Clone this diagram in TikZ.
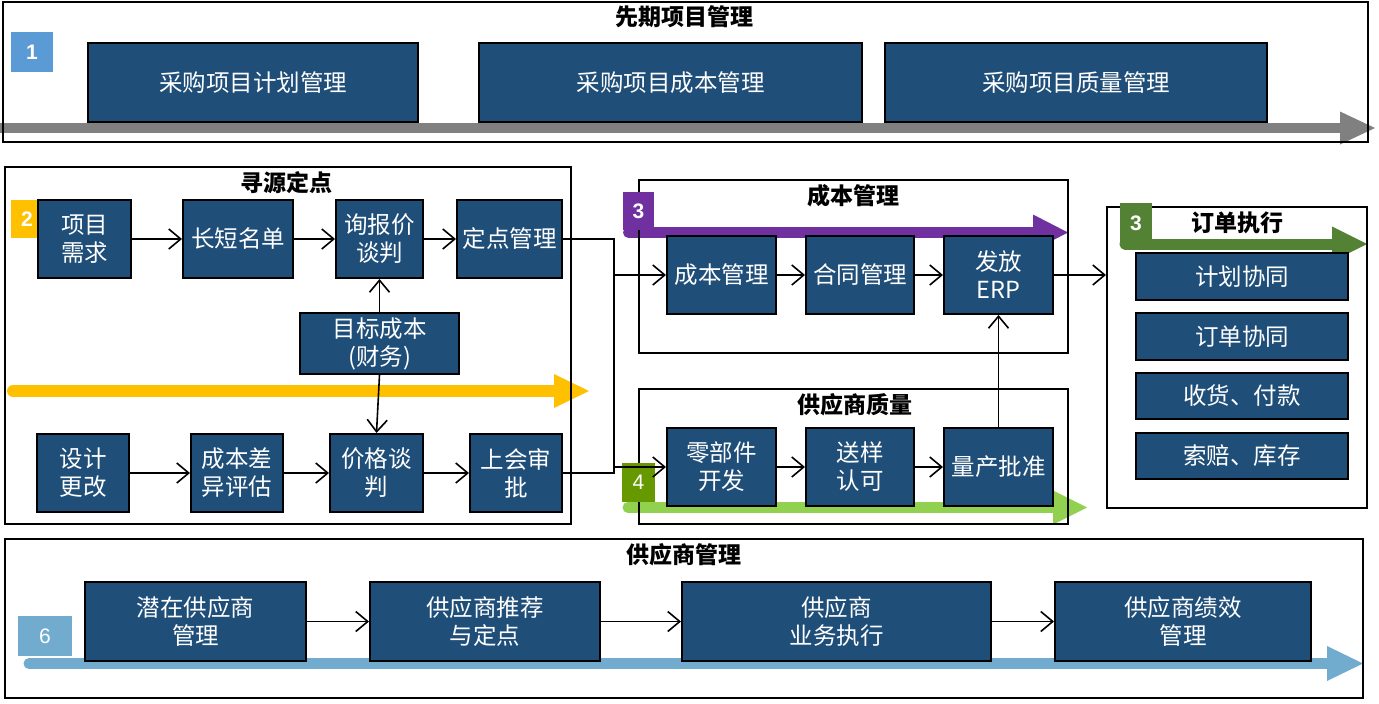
\documentclass[tikz,border=0pt]{standalone}
\usepackage{fontspec}
\setmainfont{Noto Sans CJK SC}
\newfontfamily\arial{Liberation Sans}
\usetikzlibrary{arrows.meta}
\definecolor{boxblue}{HTML}{1F4E79}
\definecolor{bargray}{HTML}{808080}
\definecolor{bOne}{HTML}{5B9BD5}
\definecolor{bYellow}{HTML}{FFC000}
\definecolor{bPurple}{HTML}{7030A0}
\definecolor{bGreenDark}{HTML}{669900}
\definecolor{bGreenLight}{HTML}{92D050}
\definecolor{bGreenOrder}{HTML}{548235}
\definecolor{bSix}{HTML}{71ACCE}
\tikzset{
  box/.style={draw=black, line width=2pt, fill=boxblue, text=white,
    font=\fontsize{23.5}{28}\selectfont, align=center, inner sep=0pt},
  panel/.style={draw=black, line width=2pt, inner sep=0pt},
  ttl/.style={font=\fontsize{23}{26}\selectfont\bfseries, inner sep=0pt},
  conn/.style={line width=1.6pt, -{Straight Barb[length=12pt,width=20pt]}},
  plain/.style={line width=1.6pt},
  badge/.style={inner sep=0pt, text=white, font=\arial\fontsize{21}{24}\selectfont},
}
\newcommand\bx[6]{\node[box, minimum width={#4-#2}, minimum height={#5-#3}] (#1) at ({(#2+#4)/2},{(#3+#5)/2}) {#6};}
\newcommand\pn[5]{\node[panel, minimum width={#4-#2}, minimum height={#5-#3}] (#1) at ({(#2+#4)/2},{(#3+#5)/2}) {};}
\newcommand\bg[7]{\node[badge, fill=#2, minimum width={#5-#3}, minimum height={#6-#4}] (#1) at ({(#3+#5)/2},{(#4+#6)/2}) {#7};}
% bar arrow: color, start x, y, head base x, tip x, thickness, half head, cap
\newcommand\bararrow[8]{%
  \draw[line width=#6, color=#1, line cap=#8] (#2,#3) -- (#4+1,#3);
  \fill[#1] (#4,#3-#7) -- (#5,#3) -- (#4,#3+#7) -- cycle;}
\begin{document}
\begin{tikzpicture}[x=1pt,y=-1pt]
\useasboundingbox (0,0) rectangle (1379,704);
% ---------- bars ----------
\bararrow{bargray}{0}{128}{1340}{1375}{10}{16.5}{butt}
\bararrow{bYellow}{13}{391}{554}{589}{12}{17}{round}
\bararrow{bPurple}{628.5}{232.5}{1033}{1068}{11}{18}{round}
\bararrow{bGreenLight}{628}{507.5}{1053}{1087}{11}{17}{round}
\bararrow{bGreenOrder}{1125}{244}{1332}{1367}{11}{17.5}{round}
\bararrow{bSix}{29}{663.5}{1327}{1363}{11}{17.5}{round}
% ---------- panels ----------
\pn{pA}{3}{2}{1368}{142}
\pn{pB}{5}{167}{571}{524}
\pn{pC}{639}{180}{1068}{353}
\pn{pD}{639}{389}{1068}{524}
\pn{pE}{1107}{207}{1367}{508}
\pn{pF}{5}{539}{1363}{698}
% ---------- titles ----------
\node[ttl] (tA) at (684,17) {先期项目管理};
\node[ttl] (tB) at (286,183) {寻源定点};
\node[ttl] (tC) at (853,196) {成本管理};
\node[ttl] (tD) at (855,405) {供应商质量};
\node[ttl] (tE) at (1237,223) {订单执行};
\node[ttl] (tF) at (684,555) {供应商管理};
% ---------- badges ----------
\bg{g1}{bOne}{11}{32}{53}{72}{\bfseries 1}
\bg{g2}{bYellow}{11}{200}{43}{238}{\bfseries 2}
\bg{g3}{bPurple}{623}{192}{654}{230}{\bfseries 3}
\bg{g4}{bGreenDark}{622}{463}{655}{502}{4}
\bg{g5}{bGreenOrder}{1120}{203}{1152}{243}{\bfseries 3}
\bg{g6}{bSix}{18}{616}{72}{656}{6}
% ---------- top row ----------
\bx{a1}{88}{43}{418}{122}{采购项目计划管理}
\bx{a2}{479}{43}{862}{122}{采购项目成本管理}
\bx{a3}{885}{43}{1267}{122}{采购项目质量管理}
% ---------- sourcing ----------
\bx{xmxq}{38}{200}{131}{278}{项目\\需求}
\bx{cdmd}{183}{200}{293}{278}{长短名单}
\bx{xbj}{336}{200}{423}{278}{询报价\\谈判}
\bx{ddgl}{457}{200}{562}{278}{定点管理}
\bx{mbcb}{300}{313}{459}{374}{目标成本\\(财务)}
\bx{sjgg}{37}{434}{129}{512}{设计\\更改}
\bx{cbcy}{191}{434}{283}{512}{成本差\\异评估}
\bx{jgtp}{330}{434}{423}{512}{价格谈\\判}
\bx{shsp}{470}{434}{562}{512}{上会审\\批}
% ---------- cost management ----------
\bx{cbgl}{667}{236}{776}{314}{成本管理}
\bx{htgl}{806}{236}{914}{314}{合同管理}
\bx{fferp}{944}{236}{1053}{314}{发放\\ERP}
% ---------- supplier quality ----------
\bx{ljkf}{667}{428}{776}{506}{零部件\\开发}
\bx{yyrk}{806}{428}{914}{506}{送样\\认可}
\bx{lcpz}{944}{428}{1053}{506}{量产批准}
% ---------- order execution ----------
\bx{jhxt}{1136}{253}{1348}{300}{计划协同}
\bx{ddxt}{1136}{313}{1348}{360}{订单协同}
\bx{shfk}{1136}{373}{1348}{419}{收货、付款}
\bx{spkc}{1136}{433}{1348}{479}{索赔、库存}
% ---------- supplier management ----------
\bx{qzgy}{85}{582}{306}{661}{潜在供应商\\管理}
\bx{gytj}{370}{582}{600}{661}{供应商推荐\\与定点}
\bx{gyzx}{682}{582}{991}{661}{供应商\\业务执行}
\bx{gyjx}{1055}{582}{1311}{661}{供应商绩效\\管理}
% ---------- connectors ----------
\draw[conn] (xmxq.east) -- (cdmd.west);
\draw[conn] (cdmd.east) -- (xbj.west);
\draw[conn] (xbj.east) -- (ddgl.west);
\draw[conn] (mbcb.north) -- (mbcb.north |- xbj.south);
\draw[conn] (mbcb.south) -- (jgtp.north);
\draw[conn] (sjgg.east) -- (cbcy.west);
\draw[conn] (cbcy.east) -- (jgtp.west);
\draw[conn] (jgtp.east) -- (shsp.west);
\coordinate (j1) at (614,239);
\coordinate (j2) at (614,473);
\draw[plain] (ddgl.east) -| (j2) -- (shsp.east);
\draw[conn] (cbgl.west -| j1) -- (cbgl.west);
\draw[conn] (ljkf.west -| j1) -- (ljkf.west);
\draw[conn] (cbgl.east) -- (htgl.west);
\draw[conn] (htgl.east) -- (fferp.west);
\draw[conn] (ljkf.east) -- (yyrk.west);
\draw[conn] (yyrk.east) -- (lcpz.west);
\draw[conn] (lcpz.north) -- (fferp.south);
\draw[conn] (fferp.east) -- (fferp.east -| pE.west);
\draw[conn] (qzgy.east) -- (gytj.west);
\draw[conn] (gytj.east) -- (gyzx.west);
\draw[conn] (gyzx.east) -- (gyjx.west);
\end{tikzpicture}
\end{document}
